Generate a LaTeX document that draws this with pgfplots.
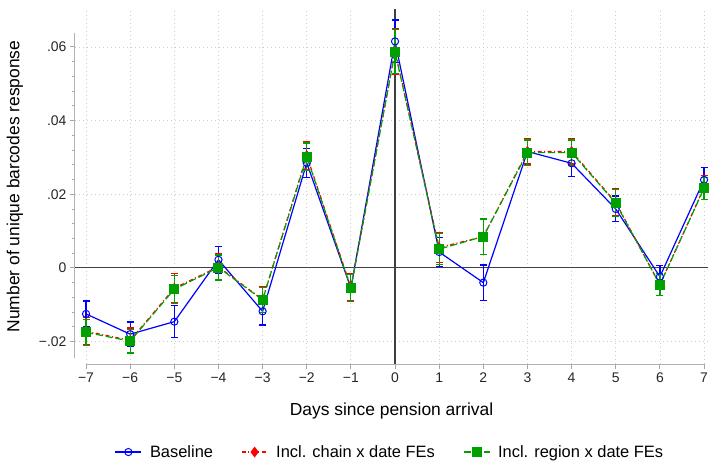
\documentclass[border=0pt]{standalone}
\usepackage{pgfplots}
\pgfplotsset{compat=1.18}
\usepackage{fontspec}
\setmainfont{Liberation Sans}
\definecolor{sblue}{RGB}{0,0,255}
\definecolor{sred}{RGB}{255,0,0}
\definecolor{sgreen}{RGB}{0,160,0}
\begin{document}
\begin{tikzpicture}
\useasboundingbox (-75bp,-98bp) rectangle (635bp,364bp);
\begin{axis}[
  scale only axis, width=633bp, height=355bp,
  xmin=-7.25, xmax=7.09, ymin=-0.0261, ymax=0.0703,
  clip=false,
  axis line style={draw=none},
  xtick={-7,...,7},
  xticklabels={−7,−6,−5,−4,−3,−2,−1,0,1,2,3,4,5,6,7},
  ytick={-0.02,0,0.02,0.04,0.06},
  yticklabels={−.02,0,.02,.04,.06},
  minor y tick num=4,
  xtick pos=bottom, ytick pos=left,
  tick align=outside,
  major tick length=5bp, minor tick length=3bp,
  every tick/.style={gray!70, line width=0.9bp},
  tick label style={font=\fontsize{14}{16}\selectfont, text=black!85},
  grid=major,
  major grid style={gray!40, line width=0.8bp, dash pattern=on 1bp off 3bp},
  xlabel={Days since pension arrival},
  ylabel={Number of unique barcodes response},
  label style={font=\fontsize{17.5}{20}\selectfont},
  xlabel style={at={(axis description cs:0.5,-0.1324)}, anchor=center},
  ylabel style={at={(axis description cs:-0.0948,0.5)}, anchor=center},
  legend style={at={(axis description cs:0.4976,-0.248)}, anchor=center, draw=none,
    font=\fontsize{16.5}{18}\selectfont,
    /tikz/every odd column/.append style={column sep=6bp},
    /tikz/every even column/.append style={column sep=26bp}},
  legend columns=3,
  legend image code/.code={\draw[#1, mark repeat=2, mark phase=2] plot coordinates {(0bp,0bp) (13bp,0bp) (26bp,0bp)};},
  error bars/error mark options={rotate=90, line width=1.2bp, mark size=3.5bp, solid},
]
% axis spines and zero lines
\draw[gray!60, line width=1bp] (axis cs:-7.25,-0.0245) -- (axis cs:-7.25,0.0638);
\draw[gray!60, line width=1bp] (axis cs:-7,-0.0261) -- (axis cs:7,-0.0261);
\draw[black!75, line width=1.2bp] (axis cs:-7.25,0) -- (axis cs:7.09,0);
\draw[black!75, line width=1.2bp] (axis cs:0,-0.0261) -- (axis cs:0,0.0703);

\addplot[sblue, line width=1.2bp, mark=o, mark size=3.6bp, mark options={solid, line width=1bp},
  error bars/.cd, y dir=both, y explicit,
  error bar style={line width=1.2bp, solid}]
  table[x=x, y=y, y error=e] {
x y e
-7 -0.0125 0.0035
-6 -0.0180 0.0033
-5 -0.0146 0.0044
-4 0.0022 0.0036
-3 -0.0118 0.0037
-2 0.0285 0.0040
-1 -0.0055 0.0037
0 0.0615 0.0058
1 0.0043 0.0040
2 -0.0040 0.0048
3 0.0316 0.0033
4 0.0284 0.0035
5 0.0160 0.0035
6 -0.0024 0.0030
7 0.0239 0.0034
};
\addlegendentry{Baseline}

\addplot[sred, line width=1.2bp, dash pattern=on 4bp off 2.5bp on 1bp off 2.5bp, mark=diamond*, mark size=4.5bp, mark options={solid},
  error bars/.cd, y dir=both, y explicit,
  error bar style={line width=1.2bp, solid}]
  table[x=x, y=y, y error=e] {
x y e
-7 -0.0172 0.0037
-6 -0.0197 0.0034
-5 -0.0055 0.0040
-4 0.0003 0.0035
-3 -0.0086 0.0035
-2 0.0305 0.0037
-1 -0.0053 0.0037
0 0.0588 0.0062
1 0.0055 0.0040
2 0.0085 0.0048
3 0.0316 0.0034
4 0.0316 0.0034
5 0.0178 0.0036
6 -0.0046 0.0030
7 0.0218 0.0032
};
\addlegendentry{Incl. chain x date FEs}

\addplot[sgreen, line width=1.2bp, dash pattern=on 7bp off 3bp, mark=square*, mark size=4.4bp, mark options={solid},
  error bars/.cd, y dir=both, y explicit,
  error bar style={line width=1.2bp, solid}]
  table[x=x, y=y, y error=e] {
x y e
-7 -0.0175 0.0035
-6 -0.0199 0.0032
-5 -0.0058 0.0038
-4 0.0001 0.0034
-3 -0.0087 0.0034
-2 0.0302 0.0037
-1 -0.0055 0.0036
0 0.0587 0.0060
1 0.0051 0.0042
2 0.0085 0.0048
3 0.0313 0.0034
4 0.0313 0.0034
5 0.0176 0.0036
6 -0.0046 0.0030
7 0.0216 0.0030
};
\addlegendentry{Incl. region x date FEs}
\end{axis}
\end{tikzpicture}
\end{document}
